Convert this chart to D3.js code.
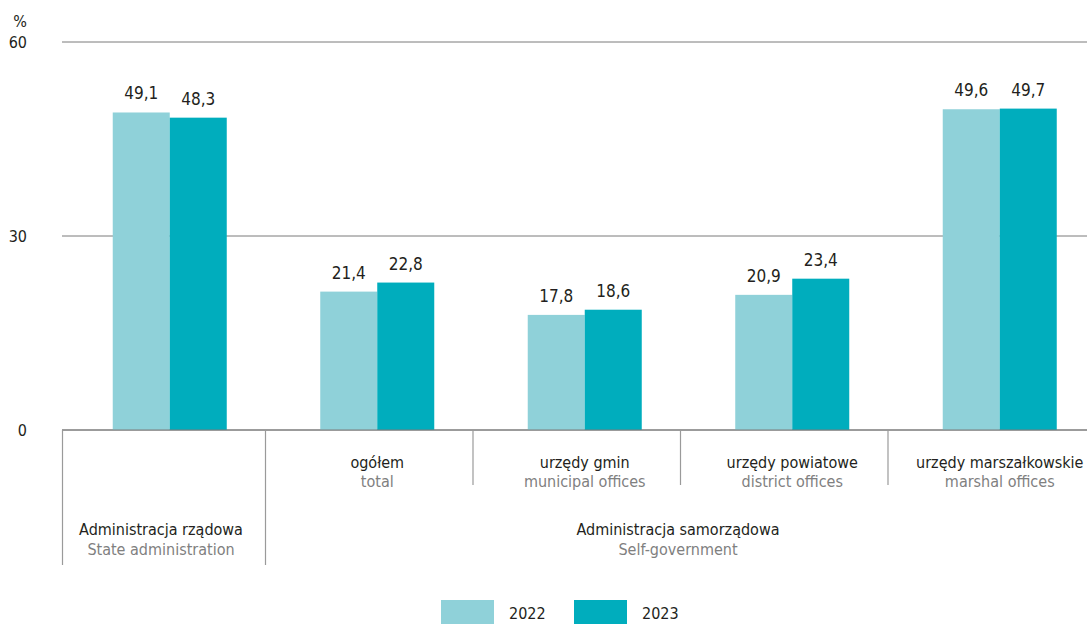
<!DOCTYPE html>
<html>
<head>
<meta charset="utf-8">
<script src="https://cdn.jsdelivr.net/npm/d3@7"></script>
<style>
  body { margin: 0; background: #fff; }
  svg text { font-family: "DejaVu Sans Condensed", "Liberation Sans Narrow", sans-serif; }
</style>
</head>
<body>
<div id="chart"></div>
<script>
var categoriesPl = ["Administracja rządowa", "ogółem", "urzędy gmin", "urzędy powiatowe", "urzędy marszałkowskie"];
var categoriesEn = ["State administration", "total", "municipal offices", "district offices", "marshal offices"];
var years = ["2022", "2023"];
var values2022 = [49.1, 21.4, 17.8, 20.9, 49.6];
var values2023 = [48.3, 22.8, 18.6, 23.4, 49.7];
var yTicks = [0, 30, 60];

var svgWidth = 1087;
var svgHeight = 624;
var margin = { top: 42, right: 0, bottom: 194, left: 62 };
var width = svgWidth - margin.left - margin.right;
var height = svgHeight - margin.top - margin.bottom;
var fs = 16;

var colors = ["#8fd1d9", "#00adbd"];

var svg = d3.select("#chart")
  .append("svg")
  .attr("width", svgWidth)
  .attr("height", svgHeight);

var chartGroup = svg.append("g")
  .attr("transform", `translate(${margin.left}, ${margin.top})`);

var xScale = d3.scaleBand()
  .domain(categoriesPl)
  .range([4, 4 + 5 * 207.5])
  .padding(0);

var xInner = d3.scaleBand()
  .domain(years)
  .range([0, xScale.bandwidth()])
  .paddingOuter(0.82)
  .paddingInner(0);

var yScale = d3.scaleLinear()
  .domain([0, 60])
  .range([height, 0]);

// gridlines
chartGroup.selectAll(".grid")
  .data(yTicks)
  .enter()
  .append("line")
  .attr("x1", 0)
  .attr("x2", width)
  .attr("y1", d => yScale(d))
  .attr("y2", d => yScale(d))
  .attr("stroke", "#7a7a7a")
  .attr("stroke-width", 1);

// y tick labels
chartGroup.selectAll(".ylab")
  .data(yTicks)
  .enter()
  .append("text")
  .attr("x", -35)
  .attr("y", d => yScale(d) + 6)
  .attr("text-anchor", "end")
  .attr("font-size", fs)
  .attr("fill", "#231f20")
  .text(d => d);

chartGroup.append("text")
  .attr("x", -42)
  .attr("y", -15)
  .attr("text-anchor", "middle")
  .attr("font-size", fs)
  .attr("fill", "#231f20")
  .text("%");

// bars
var series = [values2022, values2023];
series.forEach(function(vals, si) {
  var g = chartGroup.append("g");
  g.selectAll("rect")
    .data(vals)
    .enter()
    .append("rect")
    .attr("x", (d, i) => xScale(categoriesPl[i]) + xInner(years[si]))
    .attr("y", d => yScale(d))
    .attr("width", xInner.bandwidth())
    .attr("height", d => height - yScale(d))
    .attr("fill", colors[si]);

  g.selectAll("text")
    .data(vals)
    .enter()
    .append("text")
    .attr("x", (d, i) => xScale(categoriesPl[i]) + xInner(years[si]) + xInner.bandwidth() / 2)
    .attr("y", d => yScale(d) - 13)
    .attr("text-anchor", "middle")
    .attr("font-size", fs + 1)
    .attr("fill", "#231f20")
    .text(d => d.toFixed(1).replace(".", ","));
});

// baseline
chartGroup.append("line")
  .attr("x1", 0).attr("x2", width)
  .attr("y1", height).attr("y2", height)
  .attr("stroke", "#7a7a7a");

// separators (between category bands)
var sepX = categoriesPl.map((c, i) => i === 0 ? 0.5 : xScale(c) - 8);
chartGroup.selectAll(".sep")
  .data(sepX)
  .enter()
  .append("line")
  .attr("x1", d => d)
  .attr("x2", d => d)
  .attr("y1", height)
  .attr("y2", (d, i) => i < 2 ? height + 135 : height + 55)
  .attr("stroke", "#9a9a9a")
  .attr("stroke-width", 1.2);

// category labels (self-government sub-categories)
[1, 2, 3, 4].forEach(function(i) {
  var cx = xScale(categoriesPl[i]) + xScale.bandwidth() / 2;
  chartGroup.append("text")
    .attr("x", cx).attr("y", height + 38)
    .attr("text-anchor", "middle")
    .attr("font-size", fs)
    .attr("fill", "#231f20")
    .text(categoriesPl[i]);
  chartGroup.append("text")
    .attr("x", cx).attr("y", height + 57)
    .attr("text-anchor", "middle")
    .attr("font-size", fs)
    .attr("fill", "#808080")
    .text(categoriesEn[i]);
});

// group labels
var gx0 = 99;
chartGroup.append("text")
  .attr("x", gx0).attr("y", height + 105)
  .attr("text-anchor", "middle").attr("font-size", fs).attr("fill", "#231f20")
  .text(categoriesPl[0]);
chartGroup.append("text")
  .attr("x", gx0).attr("y", height + 125)
  .attr("text-anchor", "middle").attr("font-size", fs).attr("fill", "#808080")
  .text(categoriesEn[0]);

var gx1 = 616;
chartGroup.append("text")
  .attr("x", gx1).attr("y", height + 105)
  .attr("text-anchor", "middle").attr("font-size", fs).attr("fill", "#231f20")
  .text("Administracja samorządowa");
chartGroup.append("text")
  .attr("x", gx1).attr("y", height + 125)
  .attr("text-anchor", "middle").attr("font-size", fs).attr("fill", "#808080")
  .text("Self-government");

// legend
var legend = svg.append("g")
  .attr("transform", "translate(441, 600)");
years.forEach(function(y, i) {
  legend.append("rect")
    .attr("x", i * 133)
    .attr("y", 0)
    .attr("width", 53)
    .attr("height", 24)
    .attr("fill", colors[i]);
  legend.append("text")
    .attr("x", i * 133 + 68)
    .attr("y", 19)
    .attr("font-size", fs)
    .attr("fill", "#231f20")
    .text(y);
});
</script>
</body>
</html>
